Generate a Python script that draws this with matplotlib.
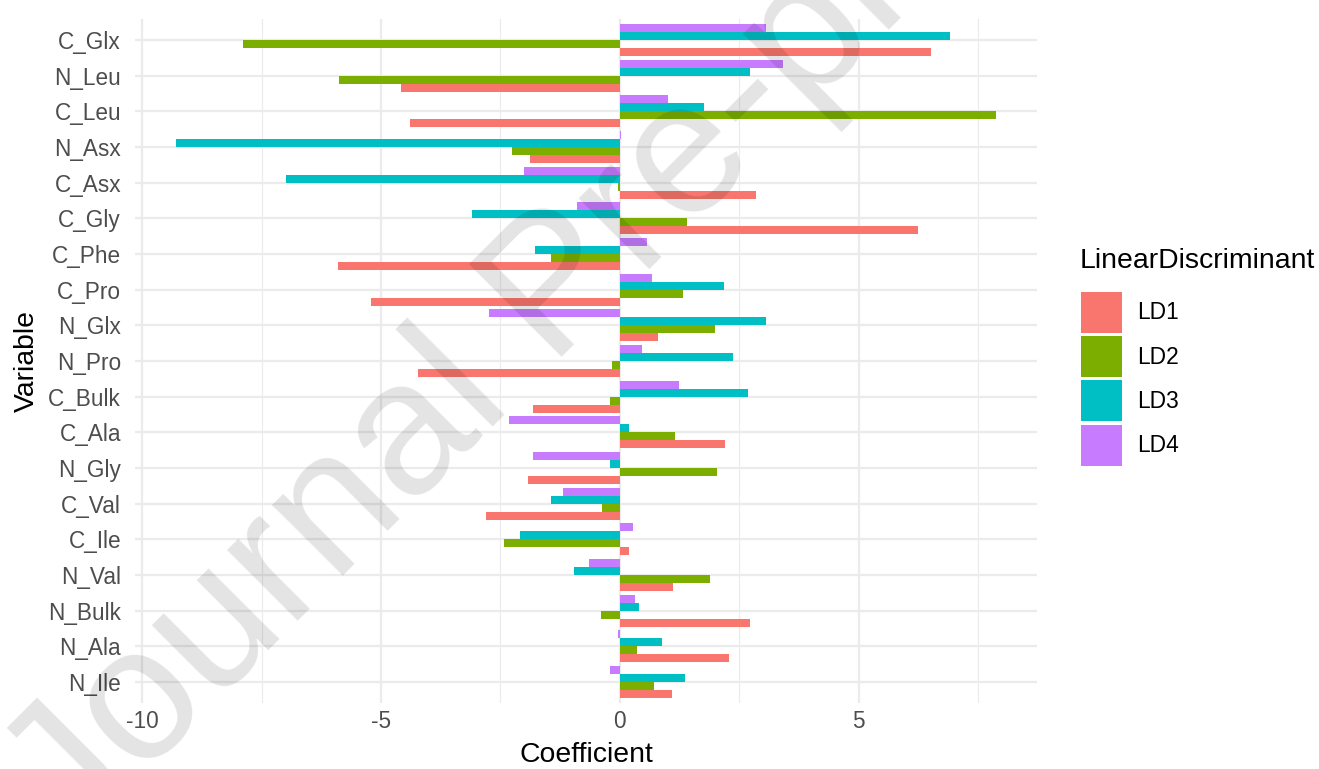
import numpy as np
import matplotlib.pyplot as plt
from matplotlib.patches import Patch

plt.rcParams['font.family'] = ['Liberation Sans', 'DejaVu Sans']

# variables listed top to bottom as they appear on the axis
variables = ['C_Glx', 'N_Leu', 'C_Leu', 'N_Asx', 'C_Asx', 'C_Gly', 'C_Phe', 'C_Pro',
             'N_Glx', 'N_Pro', 'C_Bulk', 'C_Ala', 'N_Gly', 'C_Val', 'C_Ile', 'N_Val',
             'N_Bulk', 'N_Ala', 'N_Ile']

# LDA coefficients per discriminant, same order as variables
ld1 = [6.51, -4.59, -4.39, -1.89, 2.85, 6.23, -5.91, -5.22, 0.79, -4.22, -1.81,
       2.20, -1.93, -2.81, 0.20, 1.12, 2.73, 2.29, 1.08]
ld2 = [-7.88, -5.87, 7.87, -2.26, -0.03, 1.40, -1.44, 1.32, 2.00, -0.17, -0.20,
       1.16, 2.04, -0.37, -2.42, 1.88, -0.40, 0.36, 0.72]
ld3 = [6.91, 2.73, 1.77, -9.29, -6.99, -3.10, -1.77, 2.17, 3.05, 2.36, 2.69,
       0.20, -0.20, -1.44, -2.09, -0.97, 0.40, 0.88, 1.36]
ld4 = [3.05, 3.41, 1.00, 0.03, -2.00, -0.89, 0.56, 0.68, -2.74, 0.47, 1.24,
       -2.33, -1.81, -1.20, 0.27, -0.65, 0.31, -0.04, -0.21]

series = ['LD1', 'LD2', 'LD3', 'LD4']
values = [ld1, ld2, ld3, ld4]
colors = ['#F8766D', '#7CAE00', '#00BFC4', '#C77CFF']

W, H = 1319, 769
fig = plt.figure(figsize=(W / 100, H / 100), dpi=100)
ax = fig.add_axes([135 / W, 1 - 703.4 / H, (1037 - 135) / W, (703.4 - 18.6) / H])

n = len(variables)
ypos = np.arange(n)[::-1]  # first variable at the top
bar_h = 0.9 / 4

for k, (name, vals, col) in enumerate(zip(series, values, colors)):
    offs = (k - 1.5) * bar_h
    ax.barh(ypos + offs, vals, height=bar_h, color=col, zorder=3, linewidth=0)

ax.set_xlim(-10.15, 8.73)
ax.set_ylim(-0.6, n - 1 + 0.6)

ax.set_yticks(ypos)
ax.set_yticklabels(variables)
ax.set_xticks([-10, -5, 0, 5])
ax.set_xticklabels(['-10', '-5', '0', '5'])
ax.set_xticks([-7.5, -2.5, 2.5, 7.5], minor=True)

ax.grid(which='major', color='#EBEBEB', linewidth=1.6, zorder=0)
ax.grid(which='minor', axis='x', color='#EBEBEB', linewidth=0.8, zorder=0)
ax.set_axisbelow(True)
for s in ax.spines.values():
    s.set_visible(False)
ax.tick_params(axis='both', which='both', length=0, labelsize=16.3, labelcolor='#4D4D4D')
ax.tick_params(axis='y', pad=10)
ax.tick_params(axis='x', pad=5)

ax.set_xlabel('Coefficient', fontsize=20.4, labelpad=6)
ax.set_ylabel('Variable', fontsize=20.4, labelpad=6)

# legend: title as its own text, keys below it
fig.text(1080 / W, 1 - 248 / H, 'LinearDiscriminant', fontsize=20.4, ha='left', va='top')
handles = [Patch(facecolor=c, edgecolor='none', label=s) for s, c in zip(series, colors)]
fig.legend(handles=handles, loc='upper left', bbox_to_anchor=(1081 / W, 1 - 291.7 / H),
           frameon=False, fontsize=16.4, handlelength=1.8, handleheight=2.39,
           labelspacing=0.15, handletextpad=0.66, borderaxespad=0, borderpad=0)

# watermark across the figure
fig.text(558 / W, 1 - 292 / H, 'Journal Pre-proof', fontsize=137, color='black', alpha=0.11,
         rotation=45, ha='center', va='center', zorder=10)

fig.savefig('out.png', dpi=100)
